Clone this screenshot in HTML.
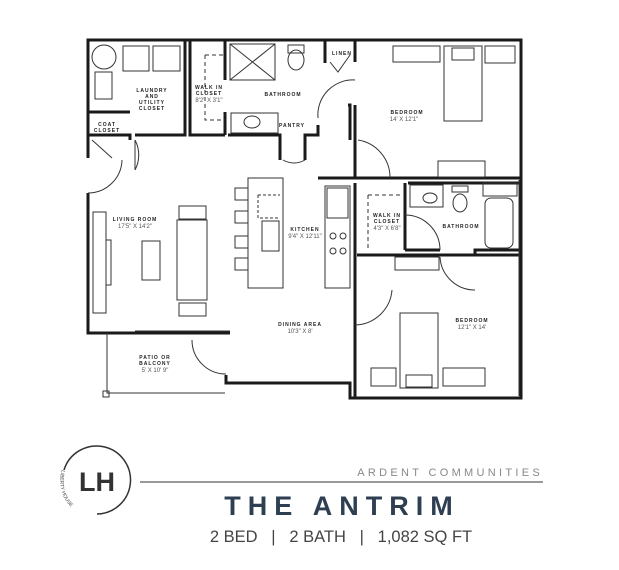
<!DOCTYPE html>
<html><head><meta charset="utf-8"><style>
html,body{margin:0;padding:0;background:#fff;}
svg{display:block}
text{font-family:"Liberation Sans",sans-serif}
.l{font-size:5px;font-weight:bold;letter-spacing:1px;fill:#222;text-anchor:middle}
.d{font-size:6px;fill:#555;text-anchor:middle}
</style></head><body>
<svg width="619" height="570" viewBox="0 0 619 570" xmlns="http://www.w3.org/2000/svg">
<defs><path id="lbp" d="M62,470 A36,36 0 0 0 100,517"/></defs>
<g fill="none" stroke="#1a1a1a" stroke-width="3">
<polyline points="88,158 88,40 521,40 521,398 350,398 350,383 226,383 226,375"/>
<polyline points="88,193 88,333 230,333"/>
<polyline points="88,135 130,135 130,140"/>
<line x1="88" y1="112" x2="130" y2="112"/>
<polyline points="135,135 185,135 185,40"/>
<polyline points="190,40 190,135 225,135"/>
<line x1="225" y1="112" x2="225" y2="135"/>
<line x1="225" y1="40" x2="225" y2="80"/>
<polyline points="228,135 280,135 280,160"/>
<polyline points="305,160 305,135 318,135 318,125"/>
<polyline points="325,40 325,63"/>
<line x1="355" y1="40" x2="355" y2="62"/>
<polyline points="348,105 350,105 350,140"/>
<line x1="355" y1="105" x2="355" y2="178"/>
<line x1="318" y1="178" x2="521" y2="178"/>
<line x1="355" y1="183" x2="355" y2="398"/>
<polyline points="405,183 405,250"/>
<line x1="357" y1="255" x2="521" y2="255"/>
<line x1="405" y1="250" x2="440" y2="250"/>
<polyline points="475,255 475,250 521,250"/>
<line x1="408" y1="183" x2="521" y2="183"/>
</g>
<g fill="none" stroke="#333" stroke-width="1">
<path d="M88,193 A34,34 0 0 0 122,160"/>
<path d="M135,170 A32,32 0 0 0 135,140 M135,140 L135,170"/>
<path d="M318,118 A35,35 0 0 1 355,80"/>
<path d="M358,140 A38,38 0 0 1 390,178"/>
<path d="M283,160 A22,22 0 0 0 305,160"/>
<path d="M330,62 L338,72 L350,55"/>
<path d="M405,215 A35,35 0 0 1 440,250"/>
<path d="M440,257 A35,35 0 0 0 475,290"/>
<path d="M355,325 A38,38 0 0 0 392,290"/>
<path d="M192,340 A34,34 0 0 0 226,374"/>
<path d="M92,140 L112,158"/>
<polyline points="107,333 107,393 225,393"/>
<rect x="103" y="391" width="6" height="6"/>
<line x1="135" y1="331" x2="230" y2="331"/>
<circle cx="104" cy="57" r="12"/>
<rect x="123" y="46" width="26" height="25"/>
<rect x="153" y="46" width="27" height="25"/>
<rect x="95" y="72" width="17" height="27"/>
<rect x="230" y="44" width="45" height="36"/>
<path d="M230,44 L275,80 M275,44 L230,80"/>
<ellipse cx="296" cy="60" rx="8" ry="10"/><rect x="288" y="45" width="16" height="8"/>
<rect x="231" y="113" width="47" height="20"/><ellipse cx="252" cy="122" rx="8" ry="6"/>
<path d="M205,55 L225,55 M205,55 L205,120 L225,120" stroke-dasharray="4,3"/>
<rect x="393" y="46" width="47" height="16"/>
<rect x="444" y="46" width="38" height="75"/>
<rect x="452" y="48" width="22" height="12"/>
<rect x="485" y="46" width="30" height="17"/>
<rect x="438" y="161" width="47" height="16"/>
<rect x="248" y="178" width="35" height="110"/>
<rect x="235" y="188" width="13" height="12"/><rect x="235" y="211" width="13" height="12"/>
<rect x="235" y="236" width="13" height="12"/><rect x="235" y="258" width="13" height="12"/>
<rect x="262" y="221" width="17" height="30"/>
<path d="M258,195 L280,195 M258,195 L258,218 L280,218" stroke-dasharray="3,2"/>
<rect x="325" y="186" width="25" height="102"/>
<rect x="327" y="188" width="21" height="30"/>
<circle cx="333" cy="236" r="3"/><circle cx="343" cy="236" r="3"/>
<circle cx="333" cy="251" r="3"/><circle cx="343" cy="251" r="3"/>
<rect x="93" y="212" width="13" height="101"/>
<rect x="106" y="240" width="5" height="45"/>
<rect x="142" y="241" width="18" height="39"/>
<rect x="177" y="220" width="30" height="80"/>
<rect x="179" y="206" width="27" height="13"/>
<rect x="179" y="303" width="27" height="13"/>
<rect x="410" y="185" width="33" height="22"/><ellipse cx="430" cy="198" rx="7" ry="5"/>
<ellipse cx="460" cy="203" rx="7" ry="9"/><rect x="452" y="186" width="16" height="6"/>
<rect x="483" y="183" width="34" height="13"/>
<rect x="485" y="198" width="28" height="50" rx="6"/>
<path d="M368,195 L400,195 M368,195 L368,250" stroke-dasharray="4,3"/>
<rect x="395" y="257" width="44" height="13"/>
<rect x="400" y="313" width="38" height="75"/>
<rect x="406" y="375" width="26" height="12"/>
<rect x="371" y="368" width="25" height="18"/>
<rect x="443" y="368" width="42" height="18"/>
<line x1="519" y1="180" x2="519" y2="396"/>
</g>
<text class="l" x="152" y="92">LAUNDRY</text><text class="l" x="152" y="98">AND</text><text class="l" x="152" y="104">UTILITY</text><text class="l" x="152" y="110">CLOSET</text>
<text class="l" x="107" y="126">COAT</text><text class="l" x="107" y="132">CLOSET</text>
<text class="l" x="209" y="89">WALK IN</text><text class="l" x="209" y="95">CLOSET</text><text class="d" x="209" y="102">8'2" X 3'1"</text>
<text class="l" x="283" y="96">BATHROOM</text>
<text class="l" x="342" y="55">LINEN</text>
<text class="l" x="292" y="127">PANTRY</text>
<text class="l" x="407" y="114">BEDROOM</text><text class="d" x="404" y="121">14' X 12'1"</text>
<text class="l" x="135" y="221">LIVING ROOM</text><text class="d" x="135" y="228">17'5" X 14'2"</text>
<text class="l" x="305" y="231">KITCHEN</text><text class="d" x="305" y="238">9'4" X 12'11"</text>
<text class="l" x="387" y="217">WALK IN</text><text class="l" x="387" y="223">CLOSET</text><text class="d" x="387" y="230">4'3" X 6'8"</text>
<text class="l" x="461" y="228">BATHROOM</text>
<text class="l" x="472" y="322">BEDROOM</text><text class="d" x="472" y="329">12'1" X 14'</text>
<text class="l" x="300" y="326">DINING AREA</text><text class="d" x="300" y="333">10'3" X 8'</text>
<text class="l" x="155" y="359">PATIO OR</text><text class="l" x="155" y="365">BALCONY</text><text class="d" x="155" y="372">5' X 10' 9"</text>
<path d="M64,470 A34,34 0 1 1 97,514" fill="none" stroke="#333" stroke-width="1.5"/>
<text x="97" y="491" font-size="27" font-weight="bold" fill="#333" text-anchor="middle">LH</text>
<text font-size="5" fill="#444"><textPath href="#lbp">LIBERTY HOUSE</textPath></text>
<line x1="140" y1="482" x2="543" y2="482" stroke="#333" stroke-width="1"/>
<text x="543" y="476" font-size="11" fill="#888" text-anchor="end" letter-spacing="3.3">ARDENT COMMUNITIES</text>
<text x="342" y="515" font-size="27" font-weight="bold" fill="#2e3f52" text-anchor="middle" letter-spacing="7">THE ANTRIM</text>
<text x="341" y="542" font-size="16.5" fill="#444" text-anchor="middle" xml:space="preserve">2 BED   |   2 BATH   |   1,082 SQ FT</text>
</svg>
</body></html>
